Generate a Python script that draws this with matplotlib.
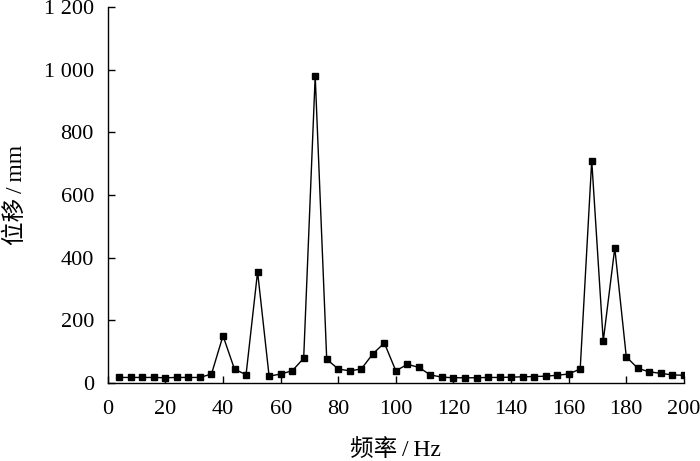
import numpy as np
import matplotlib
matplotlib.use('Agg')
import matplotlib.pyplot as plt
from matplotlib.ticker import FuncFormatter

plt.rcParams['font.family'] = ['Liberation Serif', 'Noto Sans CJK SC']
plt.rcParams['axes.unicode_minus'] = False

# 数据：频率 (Hz) 与位移 (mm)
freq = np.arange(4, 201, 4)
disp = [18, 18, 18, 18, 17, 18, 18, 18, 29, 151,
        44, 27, 355, 22, 29, 39, 79, 980, 76, 45,
        39, 45, 93, 128, 39, 60, 50, 26, 19, 17,
        17, 17, 18, 18, 19, 20, 21, 22, 25, 29,
        45, 710, 134, 431, 84, 47, 36, 31, 26, 25]

x_ticks = np.arange(0, 201, 20)
y_ticks = np.arange(0, 1201, 200)

fig = plt.figure(figsize=(7.0, 4.61), dpi=100)
ax = fig.add_axes([0.154, 0.169, 0.823, 0.816])

ax.plot(freq, disp, color='black', linewidth=1.0, marker='s', markersize=4.8,
        markerfacecolor='black', markeredgecolor='black')

ax.set_xlim(0, 200)
ax.set_ylim(0, 1200)
ax.set_xticks(x_ticks)
ax.set_yticks(y_ticks)
ax.yaxis.set_major_formatter(FuncFormatter(
    lambda v, p: f'{int(v):,}'.replace(',', ' ')))

ax.spines['top'].set_visible(False)
ax.spines['right'].set_visible(False)
for s in ['left', 'bottom']:
    ax.spines[s].set_linewidth(1.0)

ax.tick_params(direction='in', length=5, width=1.0, labelsize=16)
ax.tick_params(axis='x', pad=12)
ax.tick_params(axis='y', pad=10)

ax.set_xlabel('频率\u2009/\u2009Hz', fontsize=17)
ax.set_ylabel('位移\u2009/\u2009mm', fontsize=17)
ax.xaxis.set_label_coords(0.5, -0.15)
ax.yaxis.set_label_coords(-0.14, 0.5)

plt.savefig('out.png', dpi=100)
plt.close()
